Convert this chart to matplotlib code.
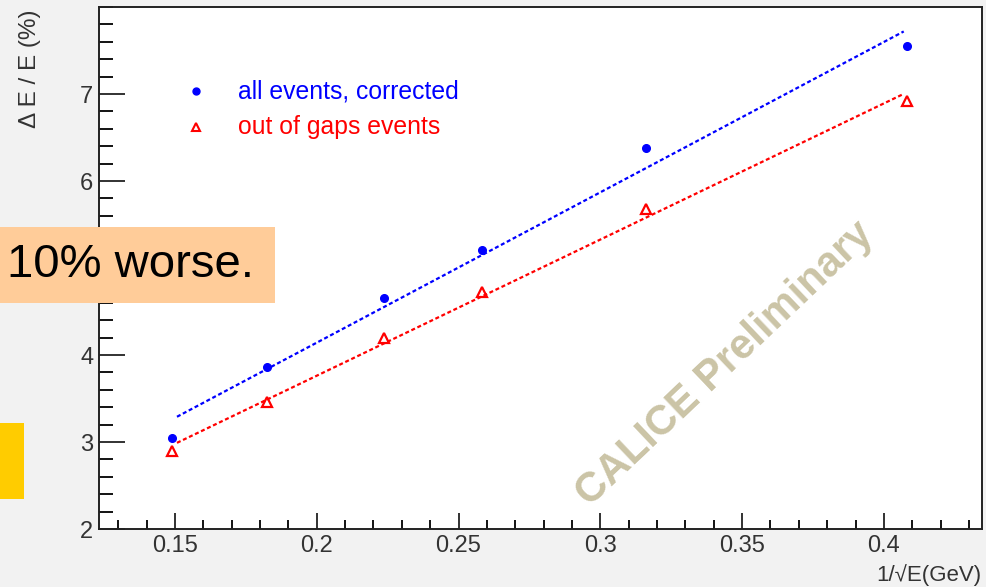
import matplotlib
matplotlib.use("Agg")
import matplotlib.pyplot as plt
from matplotlib.patches import Rectangle
import numpy as np

plt.rcParams['font.family'] = ['Liberation Sans', 'DejaVu Sans']

# Data
energies = [45, 30, 20, 15, 10, 6]  # GeV
x_vals = [0.1491, 0.1826, 0.2236, 0.2582, 0.3162, 0.4082]
all_events = [3.05, 3.86, 4.65, 5.21, 6.38, 7.55]
out_of_gaps = [2.90, 3.46, 4.19, 4.72, 5.68, 6.92]
fit_range = [0.1507, 0.407]
fit_all = [17.28, 0.686]      # slope, intercept
fit_gaps = [15.65, 0.632]
legend_labels = ['all events, corrected', 'out of gaps events']

W, H = 987, 587
fig = plt.figure(figsize=(W/100, H/100), dpi=100)
fig.patch.set_facecolor('#F2F2F2')
ax = fig.add_axes([99/W, 1-529/H, (982-99)/W, (529-7)/H])
ax.set_facecolor('white')

xf = np.array(fit_range)
ax.plot(xf, fit_all[0]*xf + fit_all[1], color='blue', lw=1.6, ls=(0, (1.8, 1.2)))
ax.plot(xf, fit_gaps[0]*xf + fit_gaps[1], color='red', lw=1.6, ls=(0, (1.8, 1.2)))
ax.plot(x_vals, all_events, 'o', color='blue', ms=5.5, mec='blue')
ax.plot(x_vals, out_of_gaps, '^', mfc='none', mec='red', ms=7, mew=1.6)

ax.set_xlim(0.1232, 0.4346)
ax.set_ylim(2, 8)
ax.set_xticks([0.15, 0.2, 0.25, 0.3, 0.35, 0.4])
ax.set_xticklabels(['0.15', '0.2', '0.25', '0.3', '0.35', '0.4'])
ax.set_xticks(np.arange(0.13, 0.435, 0.01), minor=True)
ax.set_yticks([2, 3, 4, 5, 6, 7])
ax.set_yticklabels(['2', '3', '4', '5', '6', '7'])
ax.set_yticks(np.arange(2, 8.01, 0.2), minor=True)
ax.tick_params(axis='both', direction='in', labelsize=17, colors='#222222',
               width=1.3, top=False, right=False, labelcolor='#333333')
ax.tick_params(axis='y', which='major', length=19, pad=4)
ax.tick_params(axis='y', which='minor', length=10, width=1.3, direction='in')
ax.tick_params(axis='x', which='major', length=11.5, pad=4)
ax.tick_params(axis='x', which='minor', length=6.5, width=1.3, direction='in')
for s in ax.spines.values():
    s.set_color('#222222')
    s.set_linewidth(1.4)

# legend (drawn manually like ROOT TLegend without border)
ax.plot([0.1574], [7.03], 'o', color='blue', ms=5)
ax.plot([0.1574], [6.62], '^', mfc='none', mec='red', ms=6, mew=1.5)
ax.text(0.1722, 7.03, legend_labels[0], color='blue', fontsize=17.8, va='center', ha='left')
ax.text(0.1722, 6.62, legend_labels[1], color='red', fontsize=17.8, va='center', ha='left')

# watermark
fig.text(725/W, 1-364/H, 'CALICE Preliminary', rotation=43.5, fontsize=30, fontweight='bold',
         color='#CBC4A6', ha='center', va='center', rotation_mode='anchor')

# axis titles
fig.text(30/W, 1-69/H, 'Δ E / E (%)', rotation=90, fontsize=17.5, color='#333333', ha='center', va='center')
fig.text(981/W, 1-586/H, '1/√E(GeV)', fontsize=16, color='#333333', ha='right', va='bottom')

# overlay boxes from slide
fig.patches.append(Rectangle((0, 1-303/H), 275/W, 76/H, transform=fig.transFigure,
                             facecolor='#FFCC99', edgecolor='none', zorder=5))
fig.text(7/W, 1-265/H, '10% worse.', fontsize=34, color='black', ha='left', va='center', zorder=6)
fig.patches.append(Rectangle((0, 1-499/H), 24/W, 76/H, transform=fig.transFigure,
                             facecolor='#FFCC00', edgecolor='none', zorder=5))

fig.savefig('out.png', dpi=100, facecolor=fig.get_facecolor())
